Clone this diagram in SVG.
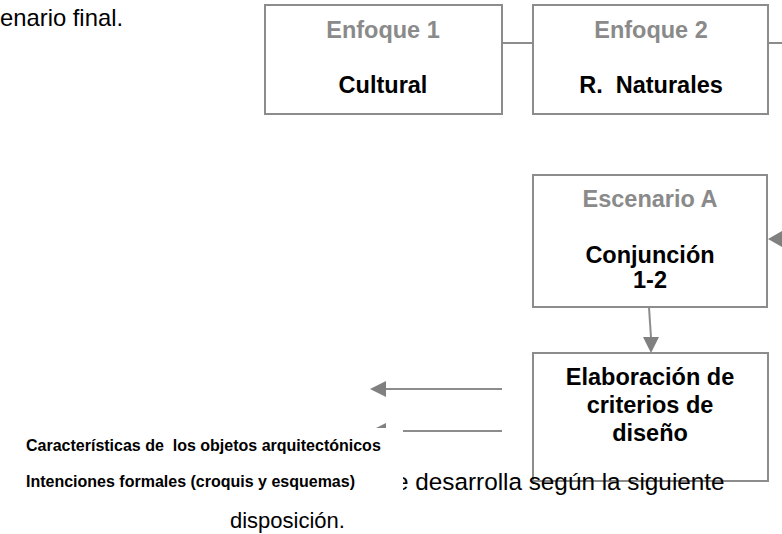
<svg xmlns="http://www.w3.org/2000/svg" width="782" height="534" viewBox="0 0 782 534">
<style>
.box{fill:#fff;stroke:#8c8c8c;stroke-width:2}
.lbl{font-family:"Liberation Sans",Arial,sans-serif;font-weight:bold;font-size:23.5px;text-anchor:middle}
.gray{fill:#8a8a8a}
.blk{fill:#000}
.body{font-family:"Liberation Sans",Arial,sans-serif;font-size:22px;fill:#000}
.small{font-family:"Liberation Sans",Arial,sans-serif;font-weight:bold;font-size:16px;fill:#000}
.conn{stroke:#8c8c8c;stroke-width:2;fill:none}
.head{fill:#808080}
</style>
<rect width="782" height="534" fill="#fff"/>
<text class="body" x="0" y="26" style="font-size:23.8px">enario final.</text>
<g id="connectors">
<line class="conn" x1="502" y1="43" x2="533" y2="43"/>
<line class="conn" x1="768" y1="43" x2="782" y2="43"/>
<line class="conn" x1="782" y1="239" x2="780" y2="239"/>
<polygon class="head" points="768,239 782,231 782,247"/>
<line class="conn" x1="649" y1="307" x2="651" y2="338"/>
<polygon class="head" points="651,353 643,337 659,337"/>
<line class="conn" x1="502" y1="389" x2="384" y2="389"/>
<polygon class="head" points="370,389 386,381 386,397"/>
<line class="conn" x1="502" y1="431" x2="384" y2="431"/>
<polygon class="head" points="370,431 386,423 386,439"/>
</g>
<g id="enfoque1">
<rect class="box" x="265" y="5" width="237" height="109"/>
<text class="lbl gray" x="383" y="38">Enfoque 1</text>
<text class="lbl blk" x="383" y="93">Cultural</text>
</g>
<g id="enfoque2">
<rect class="box" x="533" y="5" width="235" height="109"/>
<text class="lbl gray" x="651" y="38">Enfoque 2</text>
<text class="lbl blk" x="651" y="93" xml:space="preserve">R.  Naturales</text>
</g>
<g id="escenarioA">
<rect class="box" x="533" y="175" width="234" height="132"/>
<text class="lbl gray" x="650" y="207">Escenario A</text>
<text class="lbl blk" x="650" y="263">Conjunción</text>
<text class="lbl blk" x="650" y="288">1-2</text>
</g>
<g id="elaboracion">
<rect class="box" x="533" y="353" width="235" height="128"/>
<text class="lbl blk" x="650" y="385">Elaboración de</text>
<text class="lbl blk" x="650" y="413">criterios de</text>
<text class="lbl blk" x="650" y="441">diseño</text>
</g>
<text class="body" x="395" y="490" style="font-size:24.3px">e desarrolla según la siguiente</text>
<text class="body" x="230" y="528">disposición.</text>
<rect x="15" y="428" width="388" height="64" fill="#fff"/>
<text class="small" x="26" y="451" xml:space="preserve">Características de  los objetos arquitectónicos</text>
<text class="small" x="26" y="487">Intenciones formales (croquis y esquemas)</text>
</svg>
